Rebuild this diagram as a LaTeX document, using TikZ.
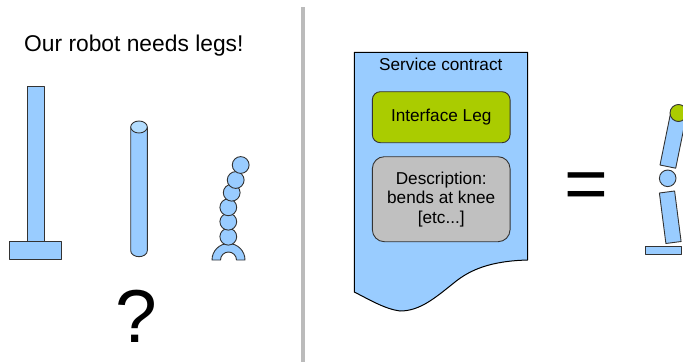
\documentclass[tikz,border=0pt]{standalone}
\usepackage{fontspec}
\setmainfont{Liberation Sans}
\definecolor{legblue}{HTML}{99CCFF}
\definecolor{legtop}{HTML}{B3DDFF}
\definecolor{outline}{HTML}{333333}
\definecolor{ifgreen}{HTML}{AACC00}
\definecolor{descgray}{HTML}{C0C0C0}
\definecolor{divgray}{HTML}{BBBBBB}
\begin{document}
\begin{tikzpicture}[x=1pt,y=-1pt,
  part/.style={fill=legblue, draw=outline, line width=0.9pt, line join=round},
  doc/.style={fill=legblue, draw=black, line width=1pt, line join=round},
  label/.style={font=\fontsize{17.2}{19.5}\selectfont, inner sep=0pt},
  panel/.style={draw=outline, line width=0.9pt, inner sep=0pt, outer sep=0pt,
    minimum width=137.7pt, label, align=center},
  bigsym/.style={font=\fontsize{75}{80}\selectfont, inner sep=0pt, anchor=base}]
\useasboundingbox (0,0) rectangle (683,362);

% heading
\node[font=\fontsize{22.8}{26}\selectfont, inner sep=0pt, anchor=base west] (title)
  at (24,51) {Our robot needs legs!};

% straight pole with a flat foot
\draw[part] (27,86) rectangle (44,242);
\draw[part] (9.3,241.7) rectangle (61.7,259);

% cylinder
\draw[part] (130.7,127) -- (130.7,250.7)
  arc[start angle=180, end angle=360, x radius=8.3pt, y radius=6pt]
  -- (147.3,127) -- cycle;
\draw[part, fill=legtop] (139,127) ellipse[x radius=8.3pt, y radius=6pt];

% chain of beads on an arch
\draw[part] (212,260) arc[start angle=180, end angle=0, radius=16.5pt]
  -- (236.5,260) arc[start angle=0, end angle=180, radius=8pt] -- cycle;
\foreach \px/\py in {228.3/236.7, 228.3/221.7, 228.3/207.3, 231.7/192.7, 235.7/180, 240.7/165}
  \draw[part] (\px,\py) circle[radius=8.4pt];

\node[bigsym] (question) at (136,342) {?};

% divider
\draw[divgray, line width=4pt] (303,7) -- (303,362);

% service contract sheet
\draw[doc] (354.3,52.3) -- (527.7,52.3) -- (527.7,260)
  .. controls (490,261) and (470,270) .. (455,282)
  .. controls (435,298) and (420,311) .. (400,311)
  .. controls (385,309) and (370,300) .. (354.3,292) -- cycle;
\node[label, anchor=base] (contract) at (440.8,70.5) {Service contract};
\node[panel, fill=ifgreen, minimum height=51pt, rounded corners=8pt]
  (iface) at (441.2,117.2) {Interface Leg};
\node[panel, fill=descgray, minimum height=85pt, rounded corners=12pt]
  (desc) at (441.2,199.2) {Description:\\bends at knee\\{}[etc...]};

\node[bigsym] (equals) at (586.3,209.5) {=};

% assembled leg
\draw[part] (660,165) -- (675.7,168.2) -- (686.7,114.3) -- (671,111.1) -- cycle;
\draw[part, fill=ifgreen] (678.5,113) circle[radius=8.5pt];
\draw[part] (667.7,178.3) circle[radius=8.3pt];
\draw[part] (659.4,193) -- (674.6,191) -- (681.1,241.5) -- (665.9,243.5) -- cycle;
\draw[part] (645.7,246.7) rectangle (681.7,254.3);
\end{tikzpicture}
\end{document}
